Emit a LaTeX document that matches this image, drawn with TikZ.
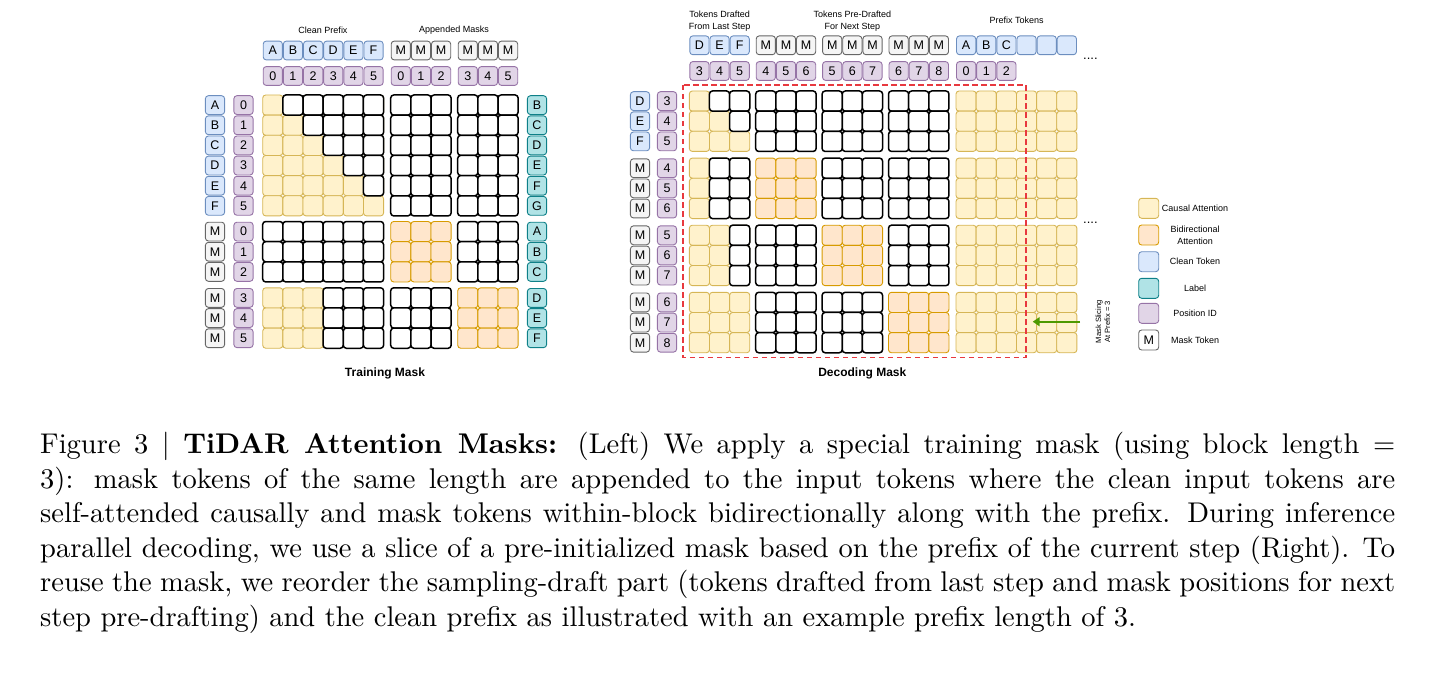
\documentclass[tikz,border=0pt]{standalone}
\usepackage{fontspec}
\setsansfont{Liberation Sans}
\newfontfamily\piefont{lmroman10-regular.otf}[BoldFont=lmroman10-bold.otf]
\usetikzlibrary{arrows.meta}

\definecolor{amarillo}{HTML}{FFF2CC}
\definecolor{amarilloB}{HTML}{D6B656}
\definecolor{naranja}{HTML}{FFE6CC}
\definecolor{naranjaB}{HTML}{D79B00}
\definecolor{azul}{HTML}{DAE8FC}
\definecolor{azulB}{HTML}{6C8EBF}
\definecolor{turquesa}{HTML}{B0E3E6}
\definecolor{turquesaB}{HTML}{0E8088}
\definecolor{lila}{HTML}{E1D5E7}
\definecolor{lilaB}{HTML}{9673A6}
\definecolor{gris}{HTML}{F5F5F5}
\definecolor{grisB}{HTML}{666666}
\definecolor{rojo}{HTML}{E8393F}
\definecolor{verde}{HTML}{4D9900}

\tikzset{
  celda/.style={draw=black, fill=white, line width=1.5pt, rounded corners=3pt},
  causal/.style={draw=amarilloB, fill=amarillo, line width=0.9pt, rounded corners=3pt},
  bidir/.style={draw=naranjaB, fill=naranja, line width=0.9pt, rounded corners=3pt},
  ficha/.style={rectangle, rounded corners=3pt, minimum width=19.2pt, minimum height=18.8pt,
    inner sep=0pt, line width=0.9pt, font=\sffamily\fontsize{12.5}{12.5}\selectfont},
  limpio/.style={ficha, draw=azulB, fill=azul},
  etiq/.style={ficha, draw=turquesaB, fill=turquesa},
  posid/.style={ficha, draw=lilaB, fill=lila},
  masc/.style={ficha, draw=grisB, fill=gris},
  titulo/.style={font=\sffamily\fontsize{9}{11.7}\selectfont, align=center},
  nombre/.style={font=\sffamily\bfseries\fontsize{12}{12}\selectfont},
}

\newcommand{\paso}{20.15}
% dibuja un bloque de celdas: estilo, x, y, columnas, filas
\newcommand{\celdas}[5]{%
  \foreach \ii in {1,...,#4} {
    \foreach \jj in {1,...,#5} {
      \draw[#1] ({#2+(\ii-1)*\paso},{#3+(\jj-1)*\paso}) rectangle ++(\paso,\paso);
    }
  }
}

\begin{document}
\begin{tikzpicture}[x=1pt,y=-1pt]
\useasboundingbox (0,0) rectangle (1456,682);

% Mascara de entrenamiento: zonas con atencion
\celdas{causal}{262.7}{95}{6}{6}
\celdas{causal}{262.7}{287.8}{3}{3}
\celdas{bidir}{390.7}{221.5}{3}{3}
\celdas{bidir}{457.7}{287.8}{3}{3}

% celdas sin atencion
\foreach \fila in {0,...,5} {
  \foreach \col in {0,...,5} {
    \ifnum\col>\fila \draw[celda] ({262.7+\col*\paso},{95+\fila*\paso}) rectangle ++(\paso,\paso);\fi
  }
}
\celdas{celda}{390.7}{95}{3}{6}
\celdas{celda}{457.7}{95}{3}{6}
\celdas{celda}{262.7}{221.5}{6}{3}
\celdas{celda}{457.7}{221.5}{3}{3}
\celdas{celda}{323.15}{287.8}{3}{3}
\celdas{celda}{390.7}{287.8}{3}{3}

% fichas de arriba
\node[titulo] (hLimpio) at (323,30) {Clean Prefix};
\node[titulo] (hMasc) at (454,30) {Appended Masks};
\foreach \t [count=\i from 0] in {A,B,C,D,E,F} {
  \node[limpio] (tt\i) at ({272.8+\i*\paso},50.5) {\t};
  \node[posid] (tp\i) at ({272.8+\i*\paso},76) {\i};
}
\foreach \i in {0,1,2} {
  \node[masc] (tm\i) at ({400.8+\i*\paso},50.5) {M};
  \node[masc] (tn\i) at ({467.8+\i*\paso},50.5) {M};
  \node[posid] (tq\i) at ({400.8+\i*\paso},76) {\i};
}
\foreach \p [count=\i from 0] in {3,4,5}
  \node[posid] (tr\i) at ({467.8+\i*\paso},76) {\p};

% fichas de los lados
\foreach \t/\e [count=\i from 0] in {A/B,B/C,C/D,D/E,E/F,F/G} {
  \node[limpio] (lt\i) at (215,{105.1+\i*\paso}) {\t};
  \node[posid] (lp\i) at (243.5,{105.1+\i*\paso}) {\i};
  \node[etiq] (le\i) at (537,{105.1+\i*\paso}) {\e};
}
\foreach \p/\e [count=\i from 0] in {0/A,1/B,2/C} {
  \node[masc] (lm\i) at (215,{231.6+\i*\paso}) {M};
  \node[posid] (lq\i) at (243.5,{231.6+\i*\paso}) {\p};
  \node[etiq] (lf\i) at (537,{231.6+\i*\paso}) {\e};
}
\foreach \p/\e [count=\i from 0] in {3/D,4/E,5/F} {
  \node[masc] (ln\i) at (215,{297.9+\i*\paso}) {M};
  \node[posid] (lr\i) at (243.5,{297.9+\i*\paso}) {\p};
  \node[etiq] (lg\i) at (537,{297.9+\i*\paso}) {\e};
}
\node[nombre] (nEntr) at (385,373) {Training Mask};

% Mascara de decodificacion: prefijo limpio siempre causal
\foreach \y in {91,158.1,225.2,292.3} {
  \celdas{causal}{956}{\y}{6}{3}
  \celdas{causal}{689.3}{\y}{3}{3}
}
% bloques de mascaras
\foreach \k/\y in {0/91,1/158.1,2/225.2,3/292.3} {
  \foreach \j/\x in {1/755.7,2/822.1,3/888.5} {
    \ifnum\j=\k \celdas{bidir}{\x}{\y}{3}{3}\else\celdas{celda}{\x}{\y}{3}{3}\fi
  }
}
% tokens del paso anterior
\celdas{celda}{709.45}{91}{2}{1}
\celdas{celda}{729.6}{111.15}{1}{1}
\celdas{celda}{709.45}{158.1}{2}{3}
\celdas{celda}{729.6}{225.2}{1}{3}

% corte de la mascara
\draw[rojo, line width=1.8pt, dash pattern=on 5.5pt off 3.5pt] (683.3,85) rectangle (1026,357.5);
\coordinate (corteIni) at (1080,321.7);
\coordinate (corteFin) at (1032.7,321.7);
\draw[verde, line width=1.8pt, -{Triangle[length=7pt,width=9pt]}] (corteIni) -- (corteFin);
\node[font=\sffamily\fontsize{7.6}{9}\selectfont, align=center, rotate=90] (nCorte) at (1103,321.7)
  {Mask Slicing\\At Prefix = 3};

% fichas de arriba
\node[titulo] (hPrev) at (719.6,21) {Tokens Drafted\\From Last Step};
\node[titulo] (hSig) at (852.4,21) {Tokens Pre-Drafted\\For Next Step};
\node[titulo] (hPref) at (1016.6,20.7) {Prefix Tokens};
\foreach \t/\p [count=\i from 0] in {D/3,E/4,F/5} {
  \node[limpio] (dt\i) at ({699.4+\i*\paso},45.3) {\t};
  \node[posid] (dp\i) at ({699.4+\i*\paso},71) {\p};
}
\foreach \x/\a/\b/\c [count=\g] in {765.8/4/5/6,832.2/5/6/7,898.6/6/7/8} {
  \foreach \p [count=\i from 0] in {\a,\b,\c} {
    \node[masc] (dm\g\i) at ({\x+\i*\paso},45.3) {M};
    \node[posid] (dq\g\i) at ({\x+\i*\paso},71) {\p};
  }
}
\foreach \t [count=\i from 0] in {A,B,C,{},{},{}}
  \node[limpio] (da\i) at ({966.1+\i*\paso},45.3) {\t};
\foreach \i in {0,1,2}
  \node[posid] (db\i) at ({966.1+\i*\paso},71) {\i};
\node[anchor=base west, font=\sffamily\fontsize{13}{13}\selectfont, inner sep=0pt] (puntos1) at (1083,60) {....};
\node[anchor=base west, font=\sffamily\fontsize{13}{13}\selectfont, inner sep=0pt] (puntos2) at (1083,223) {....};

% fichas de la izquierda
\foreach \k/\y in {0/101.1,1/168.2,2/235.3,3/302.4} {
  \foreach \i in {0,1,2} {
    \pgfmathtruncatemacro{\pos}{\k+\i+3}
    \ifnum\k=0
      \node[limpio] (dl\k\i) at (640,{\y+\i*\paso}) {\ifcase\i D\or E\or F\fi};
    \else
      \node[masc] (dl\k\i) at (640,{\y+\i*\paso}) {M};
    \fi
    \node[posid] (dr\k\i) at (667,{\y+\i*\paso}) {\pos};
  }
}
\node[nombre] (nDec) at (862.3,373.3) {Decoding Mask};

% leyenda
\node[ficha, draw=amarilloB, fill=amarillo, minimum width=20pt, minimum height=20pt] (ley1) at (1148.7,208.3) {};
\node[ficha, draw=naranjaB, fill=naranja, minimum width=20pt, minimum height=20pt] (ley2) at (1148.7,235) {};
\node[ficha, draw=azulB, fill=azul, minimum width=20pt, minimum height=20pt] (ley3) at (1148.7,261.7) {};
\node[ficha, draw=turquesaB, fill=turquesa, minimum width=20pt, minimum height=20pt] (ley4) at (1148.7,288.3) {};
\node[ficha, draw=lilaB, fill=lila, minimum width=20pt, minimum height=20pt] (ley5) at (1148.7,313.3) {};
\node[ficha, draw=grisB, fill=white, minimum width=20pt, minimum height=20pt] (ley6) at (1148.7,340) {M};
\node[titulo] (leyt1) at (1195,208.3) {Causal Attention};
\node[titulo] (leyt2) at (1195,235) {Bidirectional\\Attention};
\node[titulo] (leyt3) at (1195,261.7) {Clean Token};
\node[titulo] (leyt4) at (1195,288.3) {Label};
\node[titulo] (leyt5) at (1195,313.3) {Position ID};
\node[titulo] (leyt6) at (1195,340) {Mask Token};

% pie de figura
\node[anchor=north west, inner sep=0pt, text width=1355pt, align=justify,
  font=\piefont\fontsize{28.5}{34.6}\selectfont] (pie) at (40,432) {\hyphenpenalty=10000
  Figure 3 \textbar{} \textbf{TiDAR Attention Masks:} (Left) We apply a special training mask (using block length =\linebreak
  3): mask tokens of the same length are appended to the input tokens where the clean input tokens are\linebreak
  self-attended causally and mask tokens within-block bidirectionally along with the prefix. During inference\linebreak
  parallel decoding, we use a slice of a pre-initialized mask based on the prefix of the current step (Right). To\linebreak
  reuse the mask, we reorder the sampling-draft part (tokens drafted from last step and mask positions for next\linebreak
  step pre-drafting) and the clean prefix as illustrated with an example prefix length of 3.};
\end{tikzpicture}
\end{document}
